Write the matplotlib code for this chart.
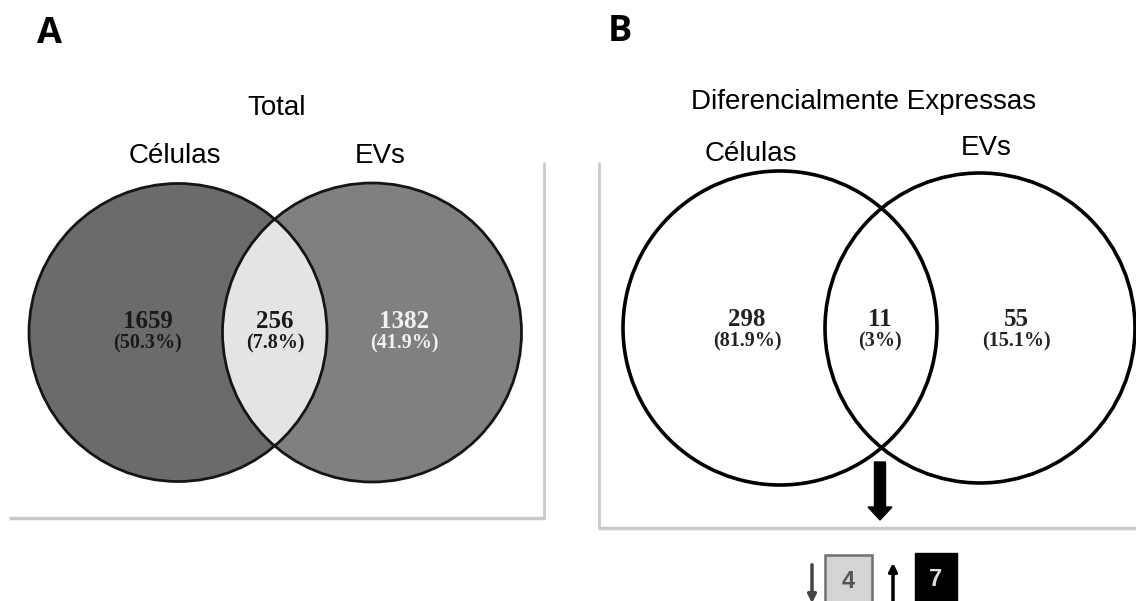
import matplotlib.pyplot as plt
from matplotlib.patches import Ellipse, Rectangle, FancyArrow, PathPatch
from matplotlib.path import Path
import numpy as np

# Panel A: all miRNAs
total_sets = ["Células", "EVs"]
total_counts = [1659, 256, 1382]
total_pcts = ["50.3%", "7.8%", "41.9%"]

# Panel B: differentially expressed
diff_sets = ["Células", "EVs"]
diff_counts = [298, 11, 55]
diff_pcts = ["81.9%", "3%", "15.1%"]

# Shared miRNAs split by direction: down, up
shared_split = [4, 7]

fig = plt.figure(figsize=(11.36, 6.01), dpi=100)
ax = fig.add_axes([0, 0, 1, 1])
ax.set_xlim(0, 1136)
ax.set_ylim(601, 0)
ax.axis("off")

SANS = "Liberation Sans"
SERIF = "Liberation Serif"
LABEL_SIZE = 20


def lens_path(c1, c2, r1, r2, n=200):
    """Overlap of two circles whose centers share the same y."""
    d = c2[0] - c1[0]
    xi = (d ** 2 + r1 ** 2 - r2 ** 2) / (2 * d)
    hh = np.sqrt(r1 ** 2 - xi ** 2)
    ys = np.linspace(-hh, hh, n)
    xr = c1[0] + np.sqrt(np.clip(r1 ** 2 - ys ** 2, 0, None))
    xl = c2[0] - np.sqrt(np.clip(r2 ** 2 - ys ** 2, 0, None))
    pts = np.concatenate([np.column_stack([xr, c1[1] + ys]),
                          np.column_stack([xl[::-1], c1[1] + ys[::-1]])])
    return Path(pts, closed=True)


def region_text(x, y, count, pct, color):
    ax.text(x, y, str(count), ha="center", va="center", fontsize=18,
            fontweight="bold", family=SERIF, color=color)
    ax.text(x, y + 21, f"({pct})", ha="center", va="center", fontsize=14.5,
            fontweight="bold", family=SERIF, color=color)


def circle(c, r, **kw):
    return Ellipse(c, 2 * r, 2 * r, **kw)


# ---------- Panel A ----------
ax.text(49, 34, "A", fontsize=26, fontweight="bold", family="Open Sans",
        ha="center", va="center")
ax.text(277, 108, "Total", fontsize=LABEL_SIZE, family=SANS,
        ha="center", va="center")
ax.text(175, 156, total_sets[0], fontsize=LABEL_SIZE, family=SANS,
        ha="center", va="center")
ax.text(380, 156, total_sets[1], fontsize=LABEL_SIZE, family=SANS,
        ha="center", va="center")

# frame lines
ax.plot([544, 544], [162, 518], color="#c9c9c9", lw=2, solid_capstyle="butt")
ax.plot([9, 545], [518, 518], color="#c9c9c9", lw=2.5, solid_capstyle="butt")

ca1, ca2 = (178, 332.5), (372, 332.5)
ra1, ra2 = 149, 149.5
ax.add_patch(circle(ca2, ra2, facecolor="#808080", edgecolor="none"))
ax.add_patch(circle(ca1, ra1, facecolor="#6b6b6b", edgecolor="none"))
ax.add_patch(PathPatch(lens_path(ca1, ca2, ra1, ra2), facecolor="#e4e4e4",
                       edgecolor="none"))
ax.add_patch(circle(ca1, ra1, facecolor="none", edgecolor="#151515", lw=2))
ax.add_patch(circle(ca2, ra2, facecolor="none", edgecolor="#151515", lw=2))

region_text(148, 322, total_counts[0], total_pcts[0], "#1a1a1a")
region_text(275, 322, total_counts[1], total_pcts[1], "#1a1a1a")
region_text(404, 322, total_counts[2], total_pcts[2], "#f2f2f2")

# ---------- Panel B ----------
ax.text(620, 32, "B", fontsize=26, fontweight="bold", family="Open Sans",
        ha="center", va="center")
ax.text(864, 102, "Diferencialmente Expressas", fontsize=LABEL_SIZE,
        family=SANS, ha="center", va="center")
ax.text(751, 154, diff_sets[0], fontsize=LABEL_SIZE, family=SANS,
        ha="center", va="center")
ax.text(986, 148, diff_sets[1], fontsize=LABEL_SIZE, family=SANS,
        ha="center", va="center")

ax.plot([599, 599], [162, 528], color="#c9c9c9", lw=2, solid_capstyle="butt")
ax.plot([598, 1136], [528, 528], color="#c9c9c9", lw=2.5, solid_capstyle="butt")

cb1, cb2 = (780, 328), (980, 328)
ax.add_patch(circle(cb1, 157, facecolor="none", edgecolor="black", lw=2.6))
ax.add_patch(circle(cb2, 155, facecolor="none", edgecolor="black", lw=2.6))

region_text(747, 320, diff_counts[0], diff_pcts[0], "#222222")
region_text(880, 320, diff_counts[1], diff_pcts[1], "#222222")
region_text(1016, 320, diff_counts[2], diff_pcts[2], "#222222")

# thick arrow pointing down from the overlap
ax.add_patch(FancyArrow(880, 462, 0, 58, width=11, head_width=24,
                        head_length=13, length_includes_head=True,
                        color="black"))

# down / up split of the shared miRNAs
ax.annotate("", xy=(812, 606), xytext=(812, 562), annotation_clip=False,
            arrowprops=dict(arrowstyle="-|>", color="#444444", lw=2.5,
                            mutation_scale=12))
ax.add_patch(Rectangle((825, 555), 47, 52, facecolor="#d4d4d4",
                       edgecolor="#707070", lw=1.8))
ax.text(848, 581, str(shared_split[0]), fontsize=17, fontweight="bold",
        family=SANS, color="#555555", ha="center", va="center")

ax.annotate("", xy=(893, 560), xytext=(893, 606), annotation_clip=False,
            arrowprops=dict(arrowstyle="-|>", color="black", lw=2.5,
                            mutation_scale=12))
ax.add_patch(Rectangle((915, 553), 42, 54, facecolor="black",
                       edgecolor="black", lw=1))
ax.text(936, 580, str(shared_split[1]), fontsize=17, fontweight="bold",
        family=SANS, color="#dddddd", ha="center", va="center")

fig.savefig("out.png", dpi=100)
